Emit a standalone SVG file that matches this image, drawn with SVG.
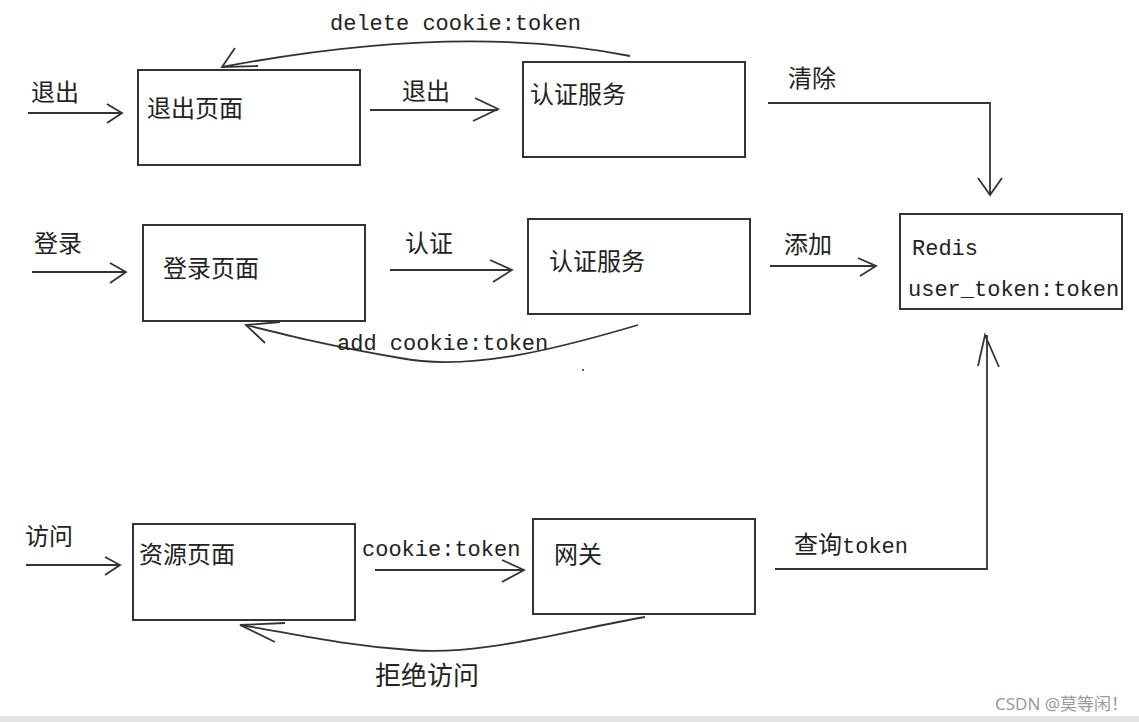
<svg xmlns="http://www.w3.org/2000/svg" width="1139" height="722" viewBox="0 0 1139 722">
<style>
.box{fill:#fff;stroke:#333;stroke-width:2}
.ln{fill:none;stroke:#333;stroke-width:1.8}
.cn{font-family:"Noto Sans CJK SC","Noto Sans",sans-serif;font-size:24px;fill:#222}
.mo{font-family:"Liberation Mono","DejaVu Sans Mono",monospace;font-size:22px;fill:#222}
.wm{font-family:"Noto Sans","Noto Sans CJK SC",sans-serif;font-size:17px;fill:#999}
</style>
<rect x="0" y="0" width="1139" height="722" fill="#fff"/>
<rect x="0" y="716" width="1139" height="6" fill="#e4e4e4"/>

<g id="logout-page"><rect class="box" x="138" y="70" width="222" height="95"/><text class="cn" x="147" y="117">退出页面</text></g>
<g id="auth-top"><rect class="box" x="523" y="62" width="222" height="95"/><text class="cn" x="530" y="103">认证服务</text></g>
<g id="login-page"><rect class="box" x="143" y="225" width="222" height="96"/><text class="cn" x="163" y="277">登录页面</text></g>
<g id="auth-mid"><rect class="box" x="528" y="219" width="222" height="95"/><text class="cn" x="549" y="270">认证服务</text></g>
<g id="redis"><rect class="box" x="900" y="214" width="222" height="95"/><text class="mo" x="912" y="255">Redis</text><text class="mo" x="908" y="296">user_token:token</text></g>
<g id="resource-page"><rect class="box" x="133" y="524" width="222" height="96"/><text class="cn" x="139" y="563">资源页面</text></g>
<g id="gateway"><rect class="box" x="533" y="519" width="222" height="95"/><text class="cn" x="554" y="563">网关</text></g>

<g id="connectors">
<path class="ln" d="M28,113 H122 M107,104 L122,113 L107,123"/>
<path class="ln" d="M370,110 H498 M475,98 L498,109 L473,121"/>
<path class="ln" d="M630,56 Q460,22 222,67"/>
<path class="ln" d="M235,48 L222,67 L258,66"/>
<path class="ln" d="M768,103 H990 V195 M978,178 L990,195 L1002,178"/>
<path class="ln" d="M32,272 H126 M110,263 L126,272 L110,283"/>
<path class="ln" d="M390,270 H512 M490,260 L512,270 L493,282"/>
<path class="ln" d="M770,266 H876 M858,258 L876,266 L860,276"/>
<path class="ln" d="M638,325 C560,348 470,372 400,358 C330,346 290,336 246,325"/>
<path class="ln" d="M280,322 L246,325 L265,343"/>
<circle cx="583" cy="370" r="1" fill="#333"/>
<path class="ln" d="M26,565 H120 M105,557 L120,565 L105,575"/>
<path class="ln" d="M375,570 H524 M502,560 L524,570 L502,582"/>
<path class="ln" d="M775,569 H987 V335 M978,366 L985,335 L999,367"/>
<path class="ln" d="M645,617 C560,632 480,656 410,650 C340,645 290,633 240,625"/>
<path class="ln" d="M285,623 L240,625 L275,642"/>
</g>

<g id="labels">
<text class="cn" x="31" y="101">退出</text>
<text class="mo" x="330" y="30">delete cookie:token</text>
<text class="cn" x="402" y="100">退出</text>
<text class="cn" x="788" y="87">清除</text>
<text class="cn" x="34" y="252">登录</text>
<text class="cn" x="405" y="252">认证</text>
<text class="cn" x="784" y="253">添加</text>
<text class="mo" x="337" y="350">add cookie:token</text>
<text class="cn" x="25" y="545">访问</text>
<text class="mo" x="362" y="556">cookie:token</text>
<text class="cn" x="794" y="553">查询<tspan class="mo">token</tspan></text>
<text class="cn" x="375" y="685" style="font-size:26px">拒绝访问</text>
<text class="wm" x="995" y="710">CSDN @莫等闲！</text>
</g>
</svg>
